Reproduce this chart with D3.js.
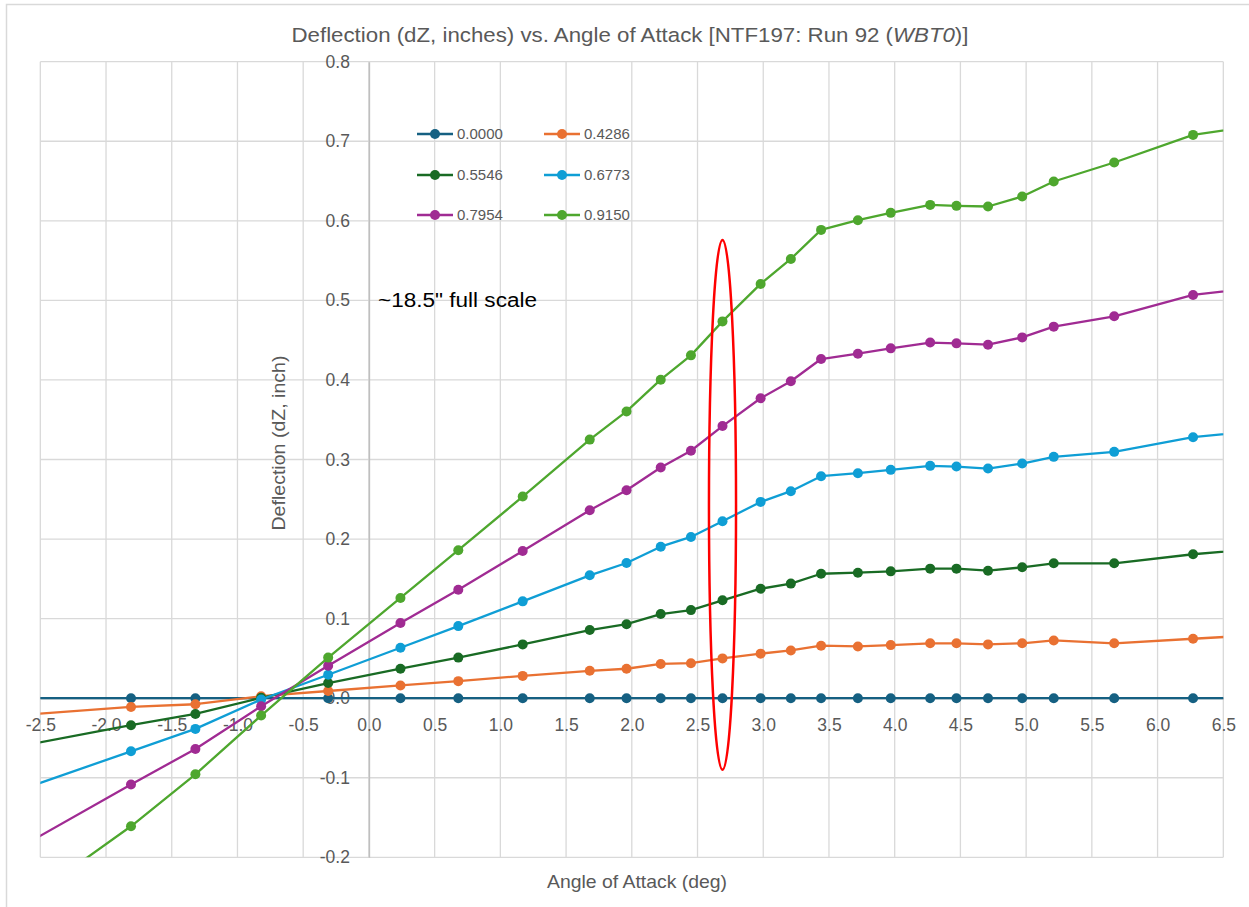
<!DOCTYPE html>
<html>
<head>
<meta charset="utf-8">
<script src="https://cdn.jsdelivr.net/npm/d3@7"></script>
<style>
  html, body { margin: 0; padding: 0; background: #ffffff; }
  svg { display: block; }
  text { font-family: "Liberation Sans", Arial, sans-serif; }
</style>
</head>
<body>
<svg id="chart" width="1249" height="907"></svg>
<script>
// Angle of attack (deg) for each measurement; the first and last lie just beyond the axis range
const alpha = [-2.81, -1.81, -1.32, -0.82, -0.31, 0.24, 0.68, 1.17, 1.68, 1.96, 2.22, 2.45, 2.69,
               2.98, 3.21, 3.44, 3.72, 3.97, 4.27, 4.47, 4.71, 4.97, 5.21, 5.67, 6.27, 6.77];

// Deflection dZ (inch) at each span station
const dz0000 = alpha.map(() => 0);
const dz4286 = [-0.023, -0.011, -0.0076, 0.0025, 0.009, 0.016, 0.0214, 0.028, 0.0344, 0.037, 0.043, 0.044, 0.050,
                0.056, 0.060, 0.066, 0.065, 0.0667, 0.069, 0.069, 0.0676, 0.069, 0.0726, 0.069, 0.0747, 0.0793];
const dz5546 = [-0.065, -0.034, -0.0198, 0.0004, 0.019, 0.037, 0.051, 0.0676, 0.0856, 0.093, 0.1057, 0.1107, 0.123,
                0.1376, 0.144, 0.1564, 0.1577, 0.1594, 0.1628, 0.1628, 0.1602, 0.1645, 0.1695, 0.1695, 0.1809, 0.188];
const dz6773 = [-0.1243, -0.0668, -0.0386, -0.0017, 0.0294, 0.0634, 0.0906, 0.1217, 0.1544, 0.1699, 0.1904, 0.2027, 0.2224,
                0.2467, 0.2602, 0.279, 0.2828, 0.287, 0.292, 0.2911, 0.2886, 0.2949, 0.3033, 0.3096, 0.328, 0.3363];
const dz7954 = [-0.202, -0.1085, -0.0638, -0.0101, 0.0407, 0.0945, 0.1363, 0.185, 0.2363, 0.2614, 0.29, 0.311, 0.342,
                0.377, 0.3984, 0.4263, 0.433, 0.4397, 0.447, 0.446, 0.4443, 0.4535, 0.467, 0.48, 0.5068, 0.5163];
const dz9150 = [-0.279, -0.161, -0.0957, -0.0218, 0.051, 0.126, 0.186, 0.2534, 0.325, 0.3604, 0.4003, 0.4309, 0.4736,
                0.5207, 0.5521, 0.5886, 0.6008, 0.610, 0.620, 0.6188, 0.618, 0.6305, 0.6494, 0.6733, 0.708, 0.7202];

const seriesNames = ["0.0000", "0.4286", "0.5546", "0.6773", "0.7954", "0.9150"];
const seriesValues = [dz0000, dz4286, dz5546, dz6773, dz7954, dz9150];
const seriesColors = ["#156082", "#E97132", "#196B24", "#0F9ED5", "#A02B93", "#4EA72E"];

const xTicks = [-2.5, -2.0, -1.5, -1.0, -0.5, 0.0, 0.5, 1.0, 1.5, 2.0, 2.5, 3.0, 3.5, 4.0, 4.5, 5.0, 5.5, 6.0, 6.5];
const yTicks = [-0.2, -0.1, 0.0, 0.1, 0.2, 0.3, 0.4, 0.5, 0.6, 0.7, 0.8];

// Highlighted angle and its vertical extent
const markAlpha = 2.69;
const markHalfWidth = 0.103;
const markRange = [-0.09, 0.576];

const titleText = "Deflection (dZ, inches) vs. Angle of Attack [NTF197: Run 92 (";
const titleItalic = "WBT0";
const titleEnd = ")]";
const xTitle = "Angle of Attack (deg)";
const yTitle = "Deflection (dZ, inch)";
const noteText = "~18.5\" full scale";

const svg = d3.select("#chart");
const W = 1249, H = 907;
const plot = { left: 40.3, right: 1223.3, top: 61.7, bottom: 857.3 };

const x = d3.scaleLinear().domain([-2.5, 6.5]).range([plot.left, plot.right]);
const y = d3.scaleLinear().domain([-0.2, 0.8]).range([plot.bottom, plot.top]);

const textGray = "#595959";
const gridColor = "#D9D9D9";
// one decimal, plain hyphen for negatives
const fmt = d => d3.format(".1f")(d).replace("\u2212", "-");

// chart area frame
svg.append("rect")
  .attr("x", 6.5).attr("y", 4.5)
  .attr("width", W + 10).attr("height", H + 10)
  .attr("fill", "#ffffff").attr("stroke", "#D9D9D9").attr("stroke-width", 1.5);

// title
const title = svg.append("text")
  .attr("x", 630).attr("y", 42)
  .attr("text-anchor", "middle")
  .attr("font-size", 20.5)
  .attr("textLength", 677)
  .attr("lengthAdjust", "spacingAndGlyphs")
  .attr("fill", textGray);
title.append("tspan").text(titleText);
title.append("tspan").attr("font-style", "italic").text(titleItalic);
title.append("tspan").text(titleEnd);

// gridlines
const grid = svg.append("g");
grid.selectAll("line.v").data(xTicks).enter().append("line")
  .attr("x1", d => x(d)).attr("x2", d => x(d))
  .attr("y1", plot.top).attr("y2", plot.bottom)
  .attr("stroke", gridColor).attr("stroke-width", 1.3);
grid.selectAll("line.h").data(yTicks).enter().append("line")
  .attr("x1", plot.left).attr("x2", plot.right)
  .attr("y1", d => y(d)).attr("y2", d => y(d))
  .attr("stroke", gridColor).attr("stroke-width", 1.3);

// axes crossing at the origin
const yAxis = d3.axisLeft(y).tickValues(yTicks).tickSize(0).tickPadding(19).tickFormat(fmt);
const gy = svg.append("g").attr("transform", `translate(${x(0)},0)`).call(yAxis);
gy.select(".domain").attr("stroke", "#BFBFBF").attr("stroke-width", 1.5);
gy.selectAll("text").attr("font-size", 17.5).attr("fill", textGray)
  .attr("font-family", "'Liberation Sans', Arial, sans-serif");

const xAxis = d3.axisBottom(x).tickValues(xTicks).tickSize(0).tickPadding(20).tickFormat(fmt);
const gx = svg.append("g").attr("transform", `translate(0,${y(0)})`).call(xAxis);
gx.select(".domain").attr("stroke", "#BFBFBF").attr("stroke-width", 1.5);
gx.selectAll("text").attr("font-size", 17.5).attr("fill", textGray)
  .attr("font-family", "'Liberation Sans', Arial, sans-serif");

// axis titles
svg.append("text")
  .attr("x", 637).attr("y", 888)
  .attr("text-anchor", "middle").attr("font-size", 19).attr("fill", textGray)
  .attr("textLength", 180).attr("lengthAdjust", "spacingAndGlyphs")
  .text(xTitle);
svg.append("text")
  .attr("transform", `translate(285,443) rotate(-90)`)
  .attr("text-anchor", "middle").attr("font-size", 19).attr("fill", textGray)
  .attr("textLength", 175).attr("lengthAdjust", "spacingAndGlyphs")
  .text(yTitle);

// series
svg.append("clipPath").attr("id", "plotClip")
  .append("rect")
  .attr("x", plot.left).attr("y", plot.top)
  .attr("width", plot.right - plot.left).attr("height", plot.bottom - plot.top);

const line = d3.line().x(d => x(d[0])).y(d => y(d[1]));
const seriesG = svg.append("g").attr("clip-path", "url(#plotClip)");

seriesValues.forEach((vals, i) => {
  const pts = alpha.map((a, k) => [a, vals[k]]);
  const g = seriesG.append("g");
  g.append("path")
    .attr("d", line(pts))
    .attr("fill", "none")
    .attr("stroke", seriesColors[i])
    .attr("stroke-width", 2.3)
    .attr("stroke-linejoin", "round");
  g.selectAll("circle").data(pts).enter().append("circle")
    .attr("cx", d => x(d[0])).attr("cy", d => y(d[1]))
    .attr("r", 5)
    .attr("fill", seriesColors[i]);
});

// legend
const legendCols = [417, 544];
const legendRows = [134, 175, 215];
const legend = svg.append("g");
seriesNames.forEach((name, i) => {
  const lx = legendCols[i % 2];
  const ly = legendRows[Math.floor(i / 2)];
  const item = legend.append("g").attr("transform", `translate(${lx},${ly})`);
  item.append("line").attr("x1", 0).attr("x2", 36).attr("y1", 0).attr("y2", 0)
    .attr("stroke", seriesColors[i]).attr("stroke-width", 2.3);
  item.append("circle").attr("cx", 18).attr("cy", 0).attr("r", 5).attr("fill", seriesColors[i]);
  item.append("text").attr("x", 40).attr("y", 0).attr("dy", "0.35em")
    .attr("font-size", 15).attr("fill", textGray).text(name);
});

// note
svg.append("text")
  .attr("x", 378).attr("y", 307)
  .attr("font-size", 20).attr("fill", "#000000")
  .attr("textLength", 159).attr("lengthAdjust", "spacingAndGlyphs")
  .text(noteText);

// highlight ellipse around the 2.69 deg measurement
svg.append("ellipse")
  .attr("cx", x(markAlpha))
  .attr("cy", (y(markRange[0]) + y(markRange[1])) / 2)
  .attr("rx", x(markAlpha + markHalfWidth) - x(markAlpha))
  .attr("ry", (y(markRange[0]) - y(markRange[1])) / 2)
  .attr("fill", "none")
  .attr("stroke", "#FF0000")
  .attr("stroke-width", 2.5);
</script>
</body>
</html>
